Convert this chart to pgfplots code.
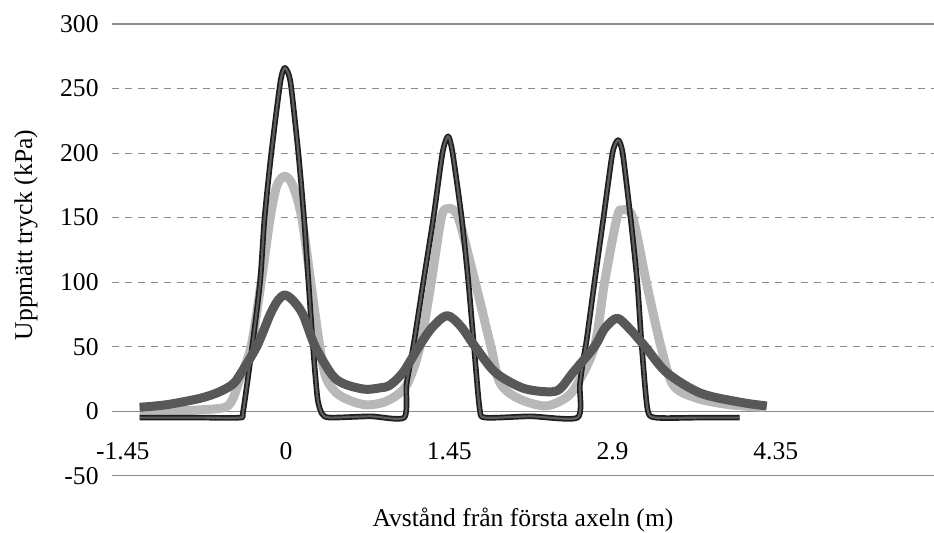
\documentclass[border=0pt]{standalone}
\usepackage{pgfplots}
\pgfplotsset{compat=1.18}
\usepackage{fontspec}
\setmainfont{Liberation Serif}
\definecolor{sblack}{HTML}{1E1E1E}
\definecolor{sblackin}{HTML}{5E5E5E}
\definecolor{sgray}{HTML}{B8B8B8}
\definecolor{sdark}{HTML}{585858}
\definecolor{gridc}{HTML}{8C8C8C}
\begin{document}
\begin{tikzpicture}
\begin{axis}[
  at={(0,0)}, anchor=south west,
  width=411pt, height=225.85pt, scale only axis=true,
  xmin=-1.545, xmax=5.755, ymin=-50, ymax=300,
  axis line style={draw=none},
  tick style={draw=none},
  xtick={-1.45,0,1.45,2.9,4.35},
  xticklabels={-1.45,0,1.45,2.9,4.35},
  ytick={-50,0,50,100,150,200,250,300},
  yticklabels={-50,0,50,100,150,200,250,300},
  ymajorgrids=true,
  major grid style={draw=gridc, line width=0.5pt, dash pattern=on 3.5pt off 3pt},
  extra y ticks={-50,0,300},
  extra y tick labels={},
  extra y tick style={major grid style={draw=gridc, line width=0.6pt, solid}},
  tick label style={font=\fontsize{12.8}{15}\selectfont},
  yticklabel style={anchor=east, inner sep=0pt, xshift=-6.5pt},
  xticklabel style={anchor=base, inner sep=0pt, yshift=7.85pt},
  xlabel={Avstånd från första axeln (m)},
  ylabel={Uppmätt tryck (kPa)},
  label style={font=\fontsize{12.8}{15}\selectfont},
  xlabel style={at={(axis description cs:0.5,0)}, anchor=base, inner sep=0pt, yshift=-25.6pt},
  ylabel style={at={(axis description cs:-0.0973,0.533)}, anchor=base, inner sep=0pt},
  clip=false,
]
% gray series
\addplot[sgray, line width=4.5pt, smooth, tension=0.5, line join=round] coordinates {
(-1.30,0) (-1.03,0) (-0.76,1) (-0.54,3) (-0.47,10) (-0.41,25) (-0.31,50) (-0.22,100)
(-0.14,150) (-0.08,175) (-0.01,182) (0.06,175) (0.14,150) (0.22,100) (0.30,50)
(0.36,25) (0.48,12) (0.70,5) (0.90,8) (1.07,20) (1.19,50) (1.29,100) (1.38,150)
(1.44,157) (1.53,150) (1.68,100) (1.82,50) (1.90,22) (2.06,10) (2.30,4) (2.48,10)
(2.58,20) (2.74,50) (2.83,100) (2.94,150) (2.99,156) (3.08,150) (3.20,100) (3.33,50)
(3.44,20) (3.65,10) (3.94,5) (4.25,3)
};
% black series (outlined)
\addplot[sblack, line width=2.8pt, smooth, tension=0.4, line join=round] coordinates {
(-1.30,-5) (-0.76,-5) (-0.41,-5) (-0.38,0) (-0.30,50) (-0.23,100) (-0.19,150)
(-0.13,200) (-0.05,255) (-0.01,266) (0.04,255) (0.11,200) (0.16,150) (0.20,100)
(0.24,50) (0.28,10) (0.32,-2) (0.39,-5) (0.75,-4) (1.05,-5) (1.07,20) (1.11,40)
(1.14,55) (1.22,100) (1.31,150) (1.39,200) (1.44,213) (1.48,200) (1.56,150)
(1.62,100) (1.67,50) (1.72,2) (1.77,-5) (2.17,-4) (2.59,-5) (2.61,20) (2.64,40)
(2.67,55) (2.74,100) (2.82,150) (2.90,200) (2.95,210) (2.99,200) (3.06,150)
(3.12,100) (3.16,50) (3.21,2) (3.28,-5) (3.68,-5) (4.03,-5)
};
\addplot[sblackin, line width=1.1pt, smooth, tension=0.4, line join=round] coordinates {
(-1.30,-5) (-0.76,-5) (-0.41,-5) (-0.38,0) (-0.30,50) (-0.23,100) (-0.19,150)
(-0.13,200) (-0.05,255) (-0.01,266) (0.04,255) (0.11,200) (0.16,150) (0.20,100)
(0.24,50) (0.28,10) (0.32,-2) (0.39,-5) (0.75,-4) (1.05,-5) (1.07,20) (1.11,40)
(1.14,55) (1.22,100) (1.31,150) (1.39,200) (1.44,213) (1.48,200) (1.56,150)
(1.62,100) (1.67,50) (1.72,2) (1.77,-5) (2.17,-4) (2.59,-5) (2.61,20) (2.64,40)
(2.67,55) (2.74,100) (2.82,150) (2.90,200) (2.95,210) (2.99,200) (3.06,150)
(3.12,100) (3.16,50) (3.21,2) (3.28,-5) (3.68,-5) (4.03,-5)
};
% dark series
\addplot[sdark, line width=4.5pt, smooth, tension=0.5, line join=round] coordinates {
(-1.30,3) (-1.06,5) (-0.76,10) (-0.59,15) (-0.47,21) (-0.41,28) (-0.26,50)
(-0.14,75) (-0.07,86) (-0.01,90) (0.06,86) (0.15,75) (0.26,50) (0.41,28)
(0.52,21) (0.70,17) (0.83,18) (0.92,20) (1.04,30) (1.18,50) (1.30,65) (1.43,74)
(1.55,66) (1.68,50) (1.86,30) (2.10,18) (2.32,15) (2.43,17) (2.55,30) (2.74,50)
(2.83,64) (2.94,72) (3.05,64) (3.19,50) (3.38,30) (3.68,14) (4.03,7) (4.27,4)
};
\end{axis}
\pgfresetboundingbox
\path[use as bounding box] (-56pt,-28.65pt) rectangle (411pt,237.85pt);
\end{tikzpicture}
\end{document}
